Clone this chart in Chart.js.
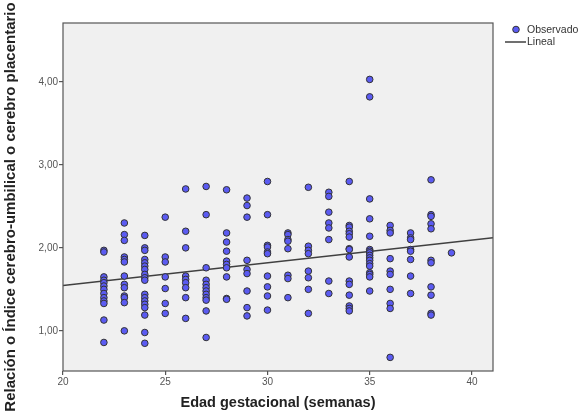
<!DOCTYPE html>
<html>
<head>
<meta charset="utf-8">
<script src="https://cdn.jsdelivr.net/npm/chart.js@4.4.1/dist/chart.umd.min.js"></script>
<style>
  html, body { margin: 0; padding: 0; background: #ffffff; }
  #wrap { width: 584px; height: 413px; position: relative; }
</style>
</head>
<body>
<div id="wrap"><canvas id="myChart"></canvas></div>
<script>
//gestational weeks that have observations
const weeks = [22, 23, 24, 25, 26, 27, 28, 29, 30, 31, 32, 33, 34, 35, 36, 37, 38, 39];

//observed ratio values, one list per week (same order as weeks)
const ratios = [
	[1.97, 1.95, 1.65, 1.61, 1.58, 1.54, 1.50, 1.45, 1.40, 1.36, 1.33, 1.13, 0.86],
	[2.30, 2.16, 2.09, 1.89, 1.86, 1.83, 1.66, 1.56, 1.52, 1.42, 1.40, 1.34, 1.00],
	[2.15, 2.00, 1.97, 1.86, 1.82, 1.78, 1.74, 1.68, 1.64, 1.61, 1.44, 1.40, 1.36, 1.32, 1.28, 1.19, 0.98, 0.85],
	[2.37, 1.89, 1.83, 1.65, 1.51, 1.33, 1.21],
	[2.71, 2.20, 2.00, 1.66, 1.62, 1.58, 1.52, 1.40, 1.15],
	[2.74, 2.40, 1.76, 1.61, 1.56, 1.52, 1.48, 1.44, 1.40, 1.37, 1.24, 0.92],
	[2.70, 2.18, 2.07, 1.96, 1.84, 1.80, 1.76, 1.65, 1.39, 1.38],
	[2.60, 2.51, 2.37, 1.85, 1.74, 1.69, 1.48, 1.28, 1.18],
	[2.80, 2.40, 2.03, 2.01, 1.95, 1.93, 1.66, 1.53, 1.42, 1.25],
	[2.18, 2.16, 2.10, 2.08, 1.99, 1.67, 1.63, 1.40],
	[2.73, 2.02, 1.97, 1.93, 1.72, 1.64, 1.50, 1.21],
	[2.67, 2.62, 2.43, 2.30, 2.24, 2.10, 1.60, 1.45],
	[2.80, 2.27, 2.25, 2.20, 2.17, 2.13, 1.99, 1.98, 1.89, 1.60, 1.56, 1.43, 1.30, 1.27, 1.24],
	[4.03, 3.82, 2.59, 2.35, 2.14, 1.98, 1.96, 1.94, 1.91, 1.88, 1.85, 1.81, 1.78, 1.70, 1.68, 1.65, 1.48],
	[2.27, 2.21, 2.18, 1.87, 1.72, 1.68, 1.50, 1.33, 1.27, 0.68],
	[2.18, 2.12, 2.10, 1.98, 1.96, 1.86, 1.66, 1.45],
	[2.82, 2.40, 2.38, 2.29, 2.23, 1.85, 1.82, 1.53, 1.43, 1.21, 1.19],
	[1.94]
];

//fitted linear line, read at the two ends of the plot
const fitX = [20, 41.03];
const fitY = [1.545, 2.122];

//axis ticks
const xTicks = [20, 25, 30, 35, 40];
const yTicks = [1, 2, 3, 4];

//build scatter points from the week lists
let obsPoints = [];
for (var i = 0; i < weeks.length; i++) {
	for (var j = 0; j < ratios[i].length; j++) {
		obsPoints.push({x: weeks[i], y: ratios[i][j]});
	}
}
let fitPoints = fitX.map(function(x, k) { return {x: x, y: fitY[k]}; });

const FONT = "'Liberation Sans', Arial, sans-serif";
const AXIS_COLOR = '#555555';
const Y_TITLE = 'Relación o Índice cerebro-umbilical o cerebro placentario';

//grey plot background and the box round it
var plotBox = {
	id: 'plotBox',
	beforeDatasetsDraw: function(chart) {
		var a = chart.chartArea, c = chart.ctx;
		c.save();
		c.fillStyle = '#f0f0f0';
		c.fillRect(a.left, a.top, a.right - a.left, a.bottom - a.top);
		c.restore();
	},
	afterDraw: function(chart) {
		var a = chart.chartArea, c = chart.ctx;
		c.save();
		c.strokeStyle = AXIS_COLOR;
		c.lineWidth = 1.2;
		c.strokeRect(a.left, a.top, a.right - a.left, a.bottom - a.top);
		c.restore();
	}
};

//y title is centred on the whole picture height, not the plot, so draw it here
var yTitle = {
	id: 'yTitle',
	afterDraw: function(chart) {
		var c = chart.ctx;
		c.save();
		c.translate(11, 207);
		c.rotate(-Math.PI / 2);
		c.fillStyle = '#222222';
		c.font = 'bold 15px ' + FONT;
		c.textAlign = 'center';
		c.textBaseline = 'middle';
		c.fillText(Y_TITLE, 0, 0);
		c.restore();
	}
};

//legend on the right, same spot as the reference
var sideLegend = {
	id: 'sideLegend',
	afterDraw: function(chart) {
		var c = chart.ctx;
		c.save();
		c.beginPath();
		c.arc(516, 29.5, 3.3, 0, Math.PI * 2);
		c.fillStyle = '#5b5bf2';
		c.fill();
		c.lineWidth = 1;
		c.strokeStyle = '#333333';
		c.stroke();
		c.beginPath();
		c.moveTo(505, 42);
		c.lineTo(526, 42);
		c.lineWidth = 1.5;
		c.strokeStyle = '#404040';
		c.stroke();
		c.fillStyle = '#333333';
		c.font = '10.5px ' + FONT;
		c.textBaseline = 'middle';
		c.fillText('Observado', 527, 30);
		c.fillText('Lineal', 527, 42);
		c.restore();
	}
};

var ctx = document.getElementById('myChart');
var chart = new Chart(ctx, {
	type: 'scatter',
	data: {
		datasets: [
		{
			label: 'Observado',
			data: obsPoints,
			backgroundColor: '#5b5bf2',
			borderColor: '#333333',
			borderWidth: 1,
			pointRadius: 3.3,
			pointHoverRadius: 3.3
		},
		{
			label: 'Lineal',
			type: 'line',
			data: fitPoints,
			borderColor: '#404040',
			borderWidth: 1.5,
			pointRadius: 0,
			fill: false
		}
		]
	},
	options: {
		responsive: true,
		maintainAspectRatio: false,
		animation: false,
		events: [],
		layout: { padding: { left: 0, top: 23, right: 91, bottom: 0 } },
		plugins: {
			legend: { display: false },
			tooltip: { enabled: false }
		},
		scales: {
			x: {
				type: 'linear',
				min: 20,
				max: 41.03,
				afterBuildTicks: function(scale) {
					scale.ticks = xTicks.map(function(v) { return {value: v}; });
				},
				afterFit: function(scale) { scale.height = 42; },
				grid: { drawOnChartArea: false, tickLength: 4, color: AXIS_COLOR, lineWidth: 1.2 },
				border: { display: false },
				ticks: { color: '#555555', font: { family: FONT, size: 10 }, padding: 1, maxRotation: 0 },
				title: {
					display: true,
					text: 'Edad gestacional (semanas)',
					color: '#222222',
					font: { family: FONT, size: 14.5, weight: 'bold' },
					padding: { top: 0, bottom: 1 }
				}
			},
			y: {
				type: 'linear',
				min: 0.516,
				max: 4.71,
				afterBuildTicks: function(scale) {
					scale.ticks = yTicks.map(function(v) { return {value: v}; });
				},
				afterFit: function(scale) { scale.width = 63; },
				grid: { drawOnChartArea: false, tickLength: 4, color: AXIS_COLOR, lineWidth: 1.2 },
				border: { display: false },
				ticks: {
					color: '#555555',
					font: { family: FONT, size: 10 },
					padding: 1,
					callback: function(v) { return v.toFixed(2).replace('.', ','); }
				}
			}
		}
	},
	plugins: [plotBox, yTitle, sideLegend]
});
</script>
</body>
</html>
